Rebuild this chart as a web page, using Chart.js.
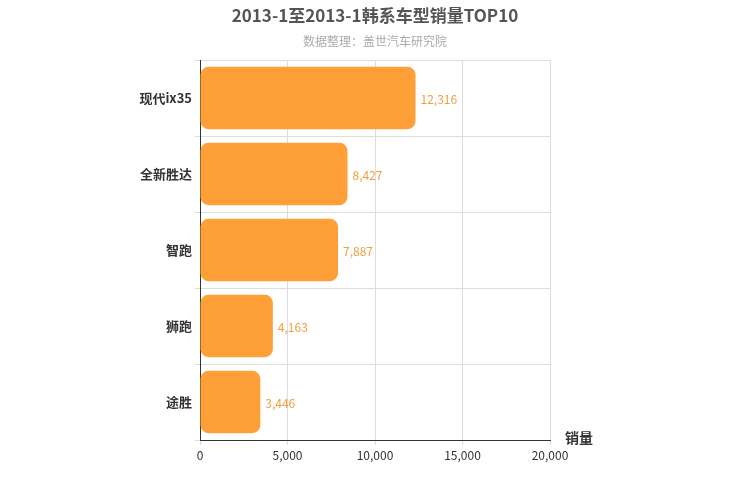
<!DOCTYPE html>
<html><head><meta charset="utf-8">
<script src="https://cdn.jsdelivr.net/npm/chart.js@4"></script>
<style>body{margin:0;background:#fff}#wrap{width:750px;height:500px}</style>
</head><body><div id="wrap"><canvas id="c"></canvas></div>
<script>
// 数据
const categories = ['现代ix35', '全新胜达', '智跑', '狮跑', '途胜'];
const sales = [12316, 8427, 7887, 4163, 3446];
const xTicks = [0, 5000, 10000, 15000, 20000];

const FONT = '"Noto Sans CJK SC", "DejaVu Sans", sans-serif';
const ORANGE = '#ff9f38';

// 标题、数值标签、轴名称
const extras = {
    id: 'extras',
    afterDraw(chart) {
        const { ctx, scales: { x, y } } = chart;
        ctx.save();
        ctx.textAlign = 'center';
        ctx.textBaseline = 'middle';
        ctx.fillStyle = '#555';
        ctx.font = 'bold 17px ' + FONT;
        ctx.fillText('2013-1至2013-1韩系车型销量TOP10', 375, 16);
        ctx.fillStyle = '#aaa';
        ctx.font = '12px ' + FONT;
        ctx.fillText('数据整理：盖世汽车研究院', 375, 41);
        ctx.textAlign = 'left';
        ctx.font = '12px ' + FONT;
        ctx.fillStyle = '#f0a040';
        sales.forEach((v, i) => {
            ctx.fillText(v.toLocaleString('en-US'), x.getPixelForValue(v) + 5, y.getPixelForValue(i) + 1);
        });
        ctx.fillStyle = '#333';
        ctx.font = 'bold 14px ' + FONT;
        ctx.fillText('销量', 565, 438);
        ctx.restore();
    }
};

new Chart(document.getElementById('c'), {
    type: 'bar',
    data: {
        labels: categories,
        datasets: [{ data: sales, backgroundColor: ORANGE, borderRadius: 8, borderSkipped: false,
            categoryPercentage: 0.82, barPercentage: 1 }]
    },
    options: {
        indexAxis: 'y',
        responsive: true,
        maintainAspectRatio: false,
        animation: false,
        layout: { padding: { top: 60, right: 200, left: 0, bottom: 0 } },
        plugins: { legend: { display: false }, tooltip: { enabled: false } },
        scales: {
            x: {
                min: 0, max: 20000,
                afterBuildTicks: (s) => { s.ticks = xTicks.map(v => ({ value: v })); },
                afterFit: (s) => { s.height = 60; },
                ticks: { color: '#333', font: { size: 12, family: FONT }, callback: v => v.toLocaleString('en-US') },
                grid: { color: '#ddd', tickLength: 5 },
                border: { color: '#333' }
            },
            y: {
                afterFit: (s) => { s.width = 200; },
                ticks: { color: '#333', font: { size: 13, weight: 'bold', family: FONT } },
                grid: { color: '#ddd', offset: true, tickLength: 5 },
                border: { color: '#333' }
            }
        }
    },
    plugins: [extras]
});
</script></body></html>
